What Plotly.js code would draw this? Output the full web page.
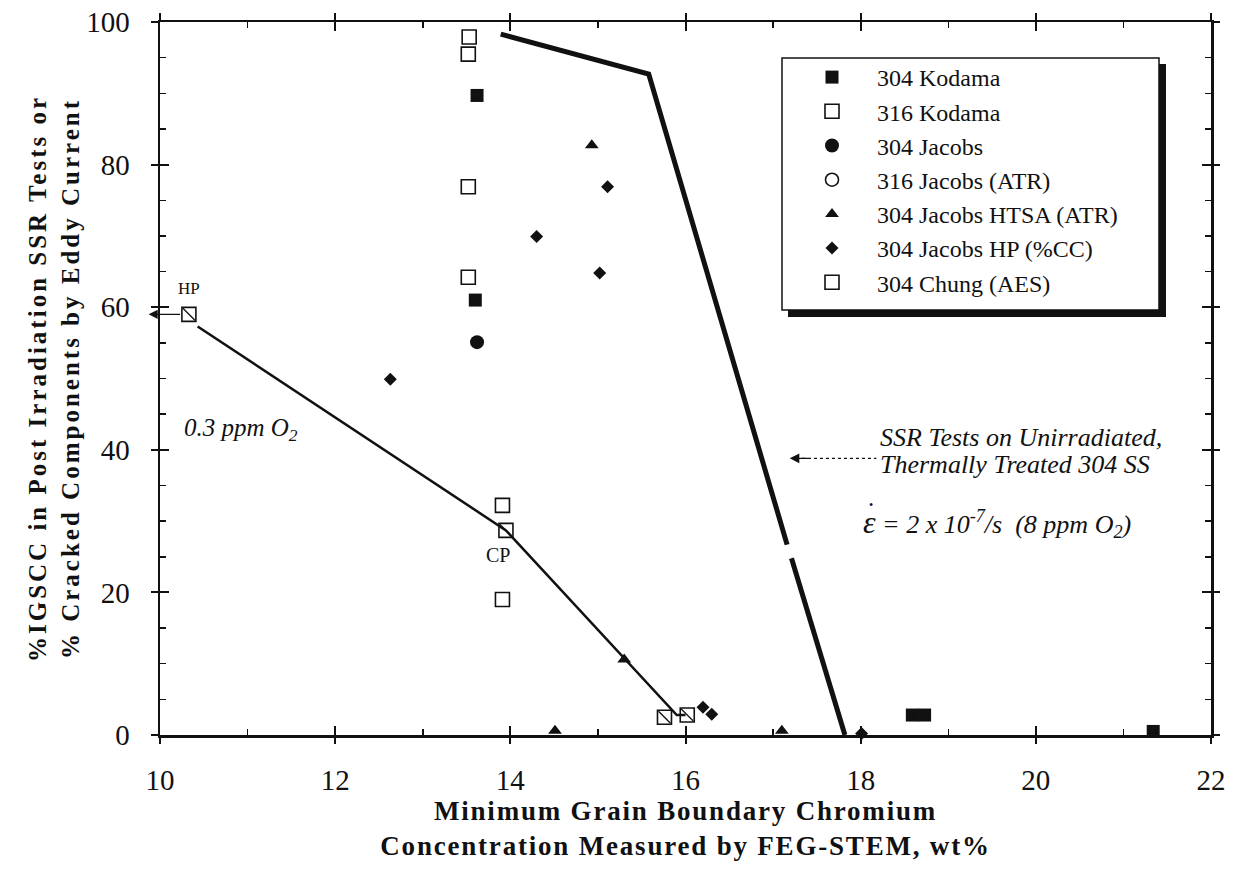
<!DOCTYPE html>
<html><head><meta charset="utf-8">
<script src="https://cdn.plot.ly/plotly-3.0.1.min.js"></script>
<style>
html,body{margin:0;padding:0;background:#fff}
.xtitle{letter-spacing:1.8px}
.ytitle{letter-spacing:3px}
</style>
</head><body><div id="chart" style="width:1237px;height:882px"></div>
<script>
// ---------------- data ----------------
const seriesNames = ["304 Kodama","316 Kodama","304 Jacobs","316 Jacobs (ATR)","304 Jacobs HTSA (ATR)","304 Jacobs HP (%CC)","304 Chung (AES)"];
const kodama304X = [13.62, 13.60, 18.59, 18.73, 21.34];
const kodama304Y = [89.7, 61.0, 2.8, 2.8, 0.5];
const kodama316X = [13.53, 13.52, 13.52, 13.52, 13.91, 13.91];
const kodama316Y = [97.9, 95.5, 76.9, 64.2, 32.2, 19.0];
const jacobs304X = [13.62];
const jacobs304Y = [55.1];
const jacobs316X = [null];
const jacobs316Y = [null];
const htsaX = [14.93, 15.30, 14.51, 17.10];
const htsaY = [82.7, 10.6, 0.6, 0.6];
const hpX = [15.11, 14.30, 15.02, 12.63, 16.20, 16.30, 18.01];
const hpY = [76.9, 69.9, 64.8, 49.9, 3.9, 2.9, 0.2];
const chungX = [10.33, 13.95, 15.76, 16.02];
const chungY = [59.0, 28.7, 2.5, 2.8];
const ssrLineX = [13.89, 15.58, 17.16, null, 17.21, 17.82];
const ssrLineY = [98.3, 92.7, 26.7, null, 24.8, 0];
const lowO2LineX = [10.43, 13.95, 15.90, 16.00];
const lowO2LineY = [57.3, 28.7, 2.8, 2.8];
const xTickVals = [10, 12, 14, 16, 18, 20, 22];
const xTickText = ["10","12","14","16","18","20","22"];
const yTickVals = [0, 20, 40, 60, 80, 100];
const yTickText = ["0","20","40","60","80","100"];
const xRange = [10, 22];
const yRange = [0, 100];

// ---------------- layout helpers ----------------
const L = 160, R = 1211, T = 22, B = 735;
const W = R - L, H = B - T;
const px2x = p => (p - L) / W;
const py2y = p => (B - p) / H;
const serif = "Liberation Serif, Times New Roman, serif";
const ink = "#111";

const traces = [];
function pts(name, x, y, marker) {
  return {type:"scatter", mode:"markers", name, x, y, marker,
    legendgroup:name, cliponaxis:false, hoverinfo:"x+y+name"};
}
traces.push({type:"scatter", mode:"lines", x:ssrLineX, y:ssrLineY, line:{color:ink, width:5},
  showlegend:false, hoverinfo:"skip", connectgaps:false});
traces.push({type:"scatter", mode:"lines", x:lowO2LineX, y:lowO2LineY, line:{color:ink, width:2.5},
  showlegend:false, hoverinfo:"skip"});
traces.push(pts(seriesNames[0], kodama304X, kodama304Y, {symbol:"square", size:13, color:ink}));
traces.push(pts(seriesNames[1], kodama316X, kodama316Y, {symbol:"square-open", size:14, color:ink, line:{width:1.6}}));
traces.push(pts(seriesNames[2], jacobs304X, jacobs304Y, {symbol:"circle", size:14, color:ink}));
traces.push(pts(seriesNames[3], jacobs316X, jacobs316Y, {symbol:"circle-open", size:13, color:ink, line:{width:1.6}}));
traces.push(pts(seriesNames[4], htsaX, htsaY, {symbol:"triangle-up", size:12, color:ink}));
traces.push(pts(seriesNames[5], hpX, hpY, {symbol:"diamond", size:10, color:ink}));
traces.push(pts(seriesNames[6], chungX, chungY, {symbol:"square-open", size:14, color:ink, line:{width:1.6}}));
traces.push({type:"scatter", mode:"markers", x:chungX, y:chungY, showlegend:false, hoverinfo:"skip",
  cliponaxis:false, marker:{symbol:"line-nw", size:12, color:ink, line:{color:ink, width:1.3}}});
// helper trace for the outer tick axes
traces.push({type:"scatter", mode:"markers", x:[null], y:[null], xaxis:"x2", yaxis:"y2", showlegend:false, hoverinfo:"skip"});

const axisCommon = {showline:true, linewidth:2.5, linecolor:ink, mirror:"allticks", showgrid:false, zeroline:false,
  ticks:"inside", ticklen:9, tickwidth:2, tickcolor:ink, tickfont:{family:serif, size:29, color:ink}};

const layout = {
  width:1237, height:882,
  margin:{l:L, r:1237-R, t:T, b:882-B},
  paper_bgcolor:"#fff", plot_bgcolor:"#fff",
  showlegend:true,
  font:{family:serif, color:ink},
  xaxis: Object.assign({}, axisCommon, {
    range:xRange, tickmode:"array", tickvals:xTickVals, ticktext:xTickText,
    minor:{dtick:1, tick0:10, ticks:"inside", ticklen:6, tickwidth:1.5, tickcolor:ink, showgrid:false},
    ticklabelstandoff:18,
    title:{text:"Minimum Grain Boundary Chromium<br>Concentration Measured by FEG-STEM, wt%",
      font:{family:serif, size:27, color:ink, weight:"bold"}, standoff:0}
  }),
  yaxis: Object.assign({}, axisCommon, {
    range:yRange, tickmode:"array", tickvals:yTickVals, ticktext:yTickText,
    minor:{dtick:5, tick0:0, ticks:"inside", ticklen:6, tickwidth:1.5, tickcolor:ink, showgrid:false},
    ticklabelstandoff:22,
    title:{text:"%IGSCC in Post Irradiation SSR Tests or<br>% Cracked Components by Eddy Current",
      font:{family:serif, size:25, color:ink, weight:"bold"}, standoff:0}
  }),
  xaxis2:{overlaying:"x", anchor:"y", range:xRange, tickmode:"array", tickvals:xTickVals, showticklabels:false,
    ticks:"outside", ticklen:8, tickwidth:2, tickcolor:ink, mirror:"allticks", showline:false, showgrid:false, zeroline:false},
  yaxis2:{overlaying:"y", anchor:"x", range:yRange, tickmode:"array", tickvals:yTickVals, showticklabels:false,
    ticks:"outside", ticklen:8, tickwidth:2, tickcolor:ink, mirror:"allticks", showline:false, showgrid:false, zeroline:false},
  legend:{x:px2x(787), y:py2y(55), xanchor:"left", yanchor:"top", bgcolor:"rgba(0,0,0,0)", borderwidth:0,
    font:{family:serif, size:24, color:ink}, traceorder:"grouped", tracegroupgap:0, itemwidth:80},
  shapes:[
    {type:"rect", xref:"paper", yref:"paper", layer:"above", x0:px2x(788), x1:px2x(1166), y0:py2y(317), y1:py2y(64),
      fillcolor:ink, line:{width:0}},
    {type:"rect", xref:"paper", yref:"paper", layer:"above", x0:px2x(782), x1:px2x(1159), y0:py2y(310), y1:py2y(58),
      fillcolor:"#fff", line:{color:ink, width:1.5}},
    {type:"line", xref:"x", yref:"y", x0:17.33, x1:18.18, y0:38.8, y1:38.8, line:{color:ink, width:1.2, dash:"dot"}}
  ],
  annotations:[
    {xref:"x", yref:"y", x:10.33, y:62.6, text:"HP", showarrow:false, font:{family:serif, size:17, color:ink}},
    {xref:"x", yref:"y", x:13.86, y:25.2, text:"CP", showarrow:false, font:{family:serif, size:20, color:ink}},
    {xref:"paper", yref:"y", x:(9.87 - xRange[0])/(xRange[1]-xRange[0]), y:59.0, ax:33, ay:0, axref:"pixel", ayref:"pixel",
      text:"", showarrow:true, arrowhead:2, arrowsize:1.4, arrowwidth:1.3, arrowcolor:ink},
    {xref:"x", yref:"y", x:10.25, y:42.9, xanchor:"left", text:"<i>0.3 ppm O<sub>2</sub></i>", showarrow:false,
      font:{family:serif, size:25, color:ink}},
    {xref:"x", yref:"y", x:17.19, y:38.8, ax:17.42, ay:38.8, axref:"x", ayref:"y", text:"", showarrow:true,
      arrowhead:2, arrowsize:1.6, arrowwidth:1.2, arrowcolor:ink},
    {xref:"x", yref:"y", x:18.2, y:41.7, xanchor:"left", yanchor:"middle",
      text:"<i>SSR Tests on Unirradiated,</i>", showarrow:false, font:{family:serif, size:26, color:ink}},
    {xref:"x", yref:"y", x:18.2, y:37.9, xanchor:"left", yanchor:"middle",
      text:"<i>Thermally Treated 304 SS</i>", showarrow:false, font:{family:serif, size:26, color:ink}},
    {xref:"x", yref:"y", x:18.0, y:29.8, xanchor:"left", yanchor:"middle",
      text:"<i><span style=\"font-size:32px\">\u03B5</span> = 2 x 10<sup>-7</sup>/s  (8 ppm O<sub>2</sub>)</i>", showarrow:false,
      font:{family:serif, size:26, color:ink}},
    {xref:"x", yref:"y", x:18.12, y:32.3, text:"\u2022", showarrow:false, font:{family:serif, size:12, color:ink}}
  ]
};

Plotly.newPlot("chart", traces, layout, {staticPlot:true, displayModeBar:false});
</script>
</body></html>
